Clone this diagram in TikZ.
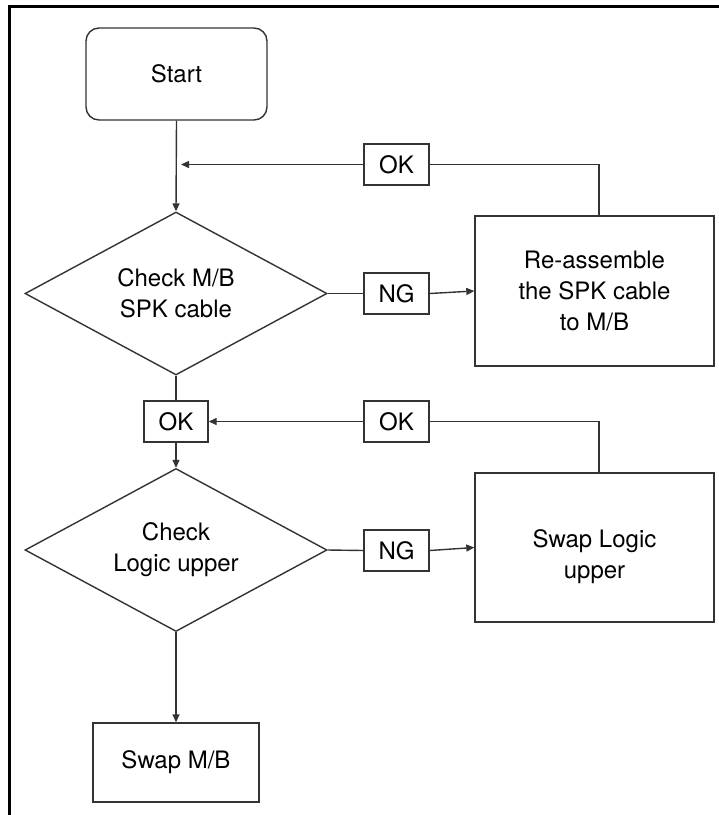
\documentclass[tikz,border=0pt]{standalone}
\usepackage{fontspec}
\setmainfont{TeX Gyre Heros}
\usetikzlibrary{shapes.geometric,arrows.meta}
\begin{document}
\begin{tikzpicture}[x=1pt,y=1pt,
  every node/.style={font=\fontsize{24}{31}\selectfont, align=center, inner sep=0pt},
  ln/.style={draw=black!80, line width=1.4pt},
  arr/.style={ln, -{Triangle[length=8pt,width=7pt]}},
  box/.style={ln, rectangle},
  rbox/.style={ln, rectangle, rounded corners=13pt},
  dec/.style={ln, diamond, aspect=1.85},
  tag/.style={ln, rectangle, minimum width=65pt, minimum height=41pt}
]
\useasboundingbox (0,0) rectangle (719,-815);
\draw[line width=3pt, black] (9.5,-815) -- (9.5,-6.5) -- (719,-6.5);

\node[rbox, minimum width=181pt, minimum height=92pt] (start) at (176.5,-74) {Start};
\node[dec, minimum width=302pt, minimum height=163pt] (d1) at (176,-293.5) {Check M/B\\SPK cable};
\node[tag] (ok1) at (396.5,-164.5) {OK};
\node[tag] (ng1) at (396.5,-293.5) {NG};
\node[box, minimum width=239pt, minimum height=150pt] (re) at (594.5,-291) {Re-assemble\\the SPK cable\\to M/B};

\node[tag, minimum width=64pt] (ok2) at (176,-421.5) {OK};
\node[tag] (ok3) at (396.5,-421.5) {OK};
\node[dec, minimum width=302pt, minimum height=163pt] (d2) at (176,-550) {Check\\Logic upper};
\node[tag] (ng2) at (396.5,-550.5) {NG};
\node[box, minimum width=239pt, minimum height=149pt, text height=70pt, text depth=8pt] (swl) at (594.5,-547.5) {Swap Logic\\upper};
\node[box, minimum width=166pt, minimum height=79pt] (swmb) at (176,-762.5) {Swap M/B};

\coordinate (m1) at (176,-164.5);
\coordinate (t1) at (599,-164.5);
\coordinate (t2) at (599,-421.5);

\draw[arr] (start.south) -- (d1.north);
\draw[arr, shorten >=5pt] (ok1.west) -- (m1);
\draw[ln] (ok1.east) -- (t1) -- (t1 |- re.north);
\draw[ln] (d1.east) -- (ng1.west);
\draw[arr] (ng1.east) -- (re.west);

\draw[ln] (d1.south) -- (ok2.north);
\draw[arr] (ok2.south) -- (d2.north);
\draw[arr] (ok3.west) -- (ok2.east);
\draw[ln] (ok3.east) -- (t2) -- (t2 |- swl.north);
\draw[ln] (d2.east) -- (ng2.west);
\draw[arr] (ng2.east) -- (swl.west);
\draw[arr] (d2.south) -- (swmb.north);
\end{tikzpicture}
\end{document}
